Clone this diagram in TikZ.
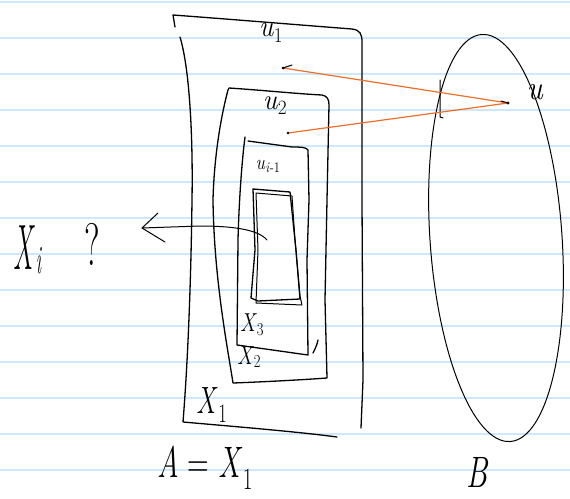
\documentclass[tikz,border=0pt]{standalone}
\definecolor{ruling}{RGB}{205,232,250}
\definecolor{penorange}{RGB}{238,110,40}
\tikzset{
  pen/.style={line width=1.3pt, line join=round, line cap=round, black},
  thinpen/.style={line width=1.0pt, line join=round, line cap=round, black},
  orangepen/.style={line width=1.2pt, line cap=round, penorange},
  lbl/.style={inner sep=0pt, outer sep=0pt, text=black},
}
\newcommand{\hw}[3]{\fontsize{#1}{#1}\selectfont\scalebox{#2}[1]{#3}}
\newcommand{\iv}[1]{\textit{#1}}
\begin{document}
\begin{tikzpicture}[x=1pt,y=-1pt]
\useasboundingbox (0,0) rectangle (570,498);
\fill[white] (0,0) rectangle (570,498);
% ruled paper
\foreach \k in {0,...,13}{
  \draw[ruling, line width=1.2pt] (0,{2+36*\k}) -- (570,{2+36*\k});
}
% outer box X1
\draw[pen] (175,27) -- (173,15) .. controls (240,20) and (300,25) .. (352,29)
  .. controls (360,30) and (362,34) .. (362,42) -- (362,200) -- (363,380) -- (361,428);
\draw[pen] (180,37) .. controls (190,70) and (193,140) .. (192,200)
  .. controls (191,280) and (188,360) .. (183,422)
  .. controls (240,427) and (300,432) .. (337,437);
% box X2
\draw[pen] (228,90) -- (229,88) .. controls (260,90) and (300,94) .. (322,95)
  .. controls (327,96) and (329,99) .. (329,105) -- (327,200) -- (325,300) -- (327,378)
  .. controls (300,380) and (260,382) .. (233,383)
  .. controls (228,350) and (214,280) .. (213,200) .. controls (214,160) and (220,120) .. (228,90);
% box X3
\draw[pen] (245,137) .. controls (242,160) and (239,200) .. (238,240) -- (237,345)
  -- (308,355) -- (307,260) -- (309,200) -- (308,150) .. controls (306,147) and (300,147) .. (292,147)
  -- (248,141);
\draw[pen] (313,353) .. controls (315,349) and (317,345) .. (318,340);
% inner rectangle, drawn twice
\draw[pen] (253,189) -- (255,250) -- (251,298) -- (258,301) -- (300,299) -- (296,250) -- (290,192) -- cycle;
\draw[thinpen] (256,193) -- (258,250) -- (256,303) -- (302,305) -- (300,296) -- (295,240) -- (292,196) -- cycle;
% points
\coordinate (p1) at (283,68);
\coordinate (p2) at (288,133);
\coordinate (pu) at (508,103);
\coordinate (atail) at (267,240);
\coordinate (atip) at (142,228);
% arrow to the left
\draw[thinpen] (atail) .. controls (258,229) and (230,226) .. (200,226) -- (atip);
\draw[thinpen] (158,213) -- (atip) -- (165,242);
% set B
\draw[thinpen, rotate around={4:(496,238)}] (496,238) ellipse [x radius=66, y radius=204];
\draw[thinpen] (440,80) -- (440,117) -- (443,118);
% orange connectors
\draw[orangepen] (p1) -- (pu);
\draw[orangepen] (p2) -- (pu);
\fill (p1) circle (1.5pt);
\draw[thinpen] (p1) -- (292,65);
\fill (p2) circle (1.3pt);
\fill (pu) circle (1.6pt);
\draw[thinpen] (501,101) -- (pu);
% labels
\node[lbl] (u1) at (271,33) {\hw{30}{0.9}{\iv{u}\textsubscript{1}}};
\node[lbl] (u2) at (275,106) {\hw{29}{0.95}{\iv{u}\textsubscript{2}}};
\node[lbl] (ui) at (268,166) {\hw{21}{0.85}{\iv{u}\textsubscript{\iv{i}-1}}};
\node[lbl] (uB) at (535,92) {\hw{34}{0.9}{\iv{u}}};
\node[lbl] (Xi) at (28,250) {\hw{64}{0.42}{\iv{X}\kern1pt\raisebox{-4pt}{\fontsize{40}{40}\selectfont\iv{i}}}};
\node[lbl] (q) at (92,244) {\hw{60}{0.6}{?}};
\node[lbl] (X3) at (252,325) {\hw{26}{0.8}{\iv{X}\textsubscript{3}}};
\node[lbl] (X2) at (249,357) {\hw{26}{0.8}{\iv{X}\textsubscript{2}}};
\node[lbl] (X1) at (212,405) {\hw{38}{0.7}{\iv{X}\textsubscript{1}}};
\node[lbl] (A) at (205,468) {\hw{44}{0.68}{\iv{A} = \iv{X}\textsubscript{1}}};
\node[lbl] (B) at (478,472) {\hw{44}{0.7}{\iv{B}}};
\end{tikzpicture}
\end{document}
